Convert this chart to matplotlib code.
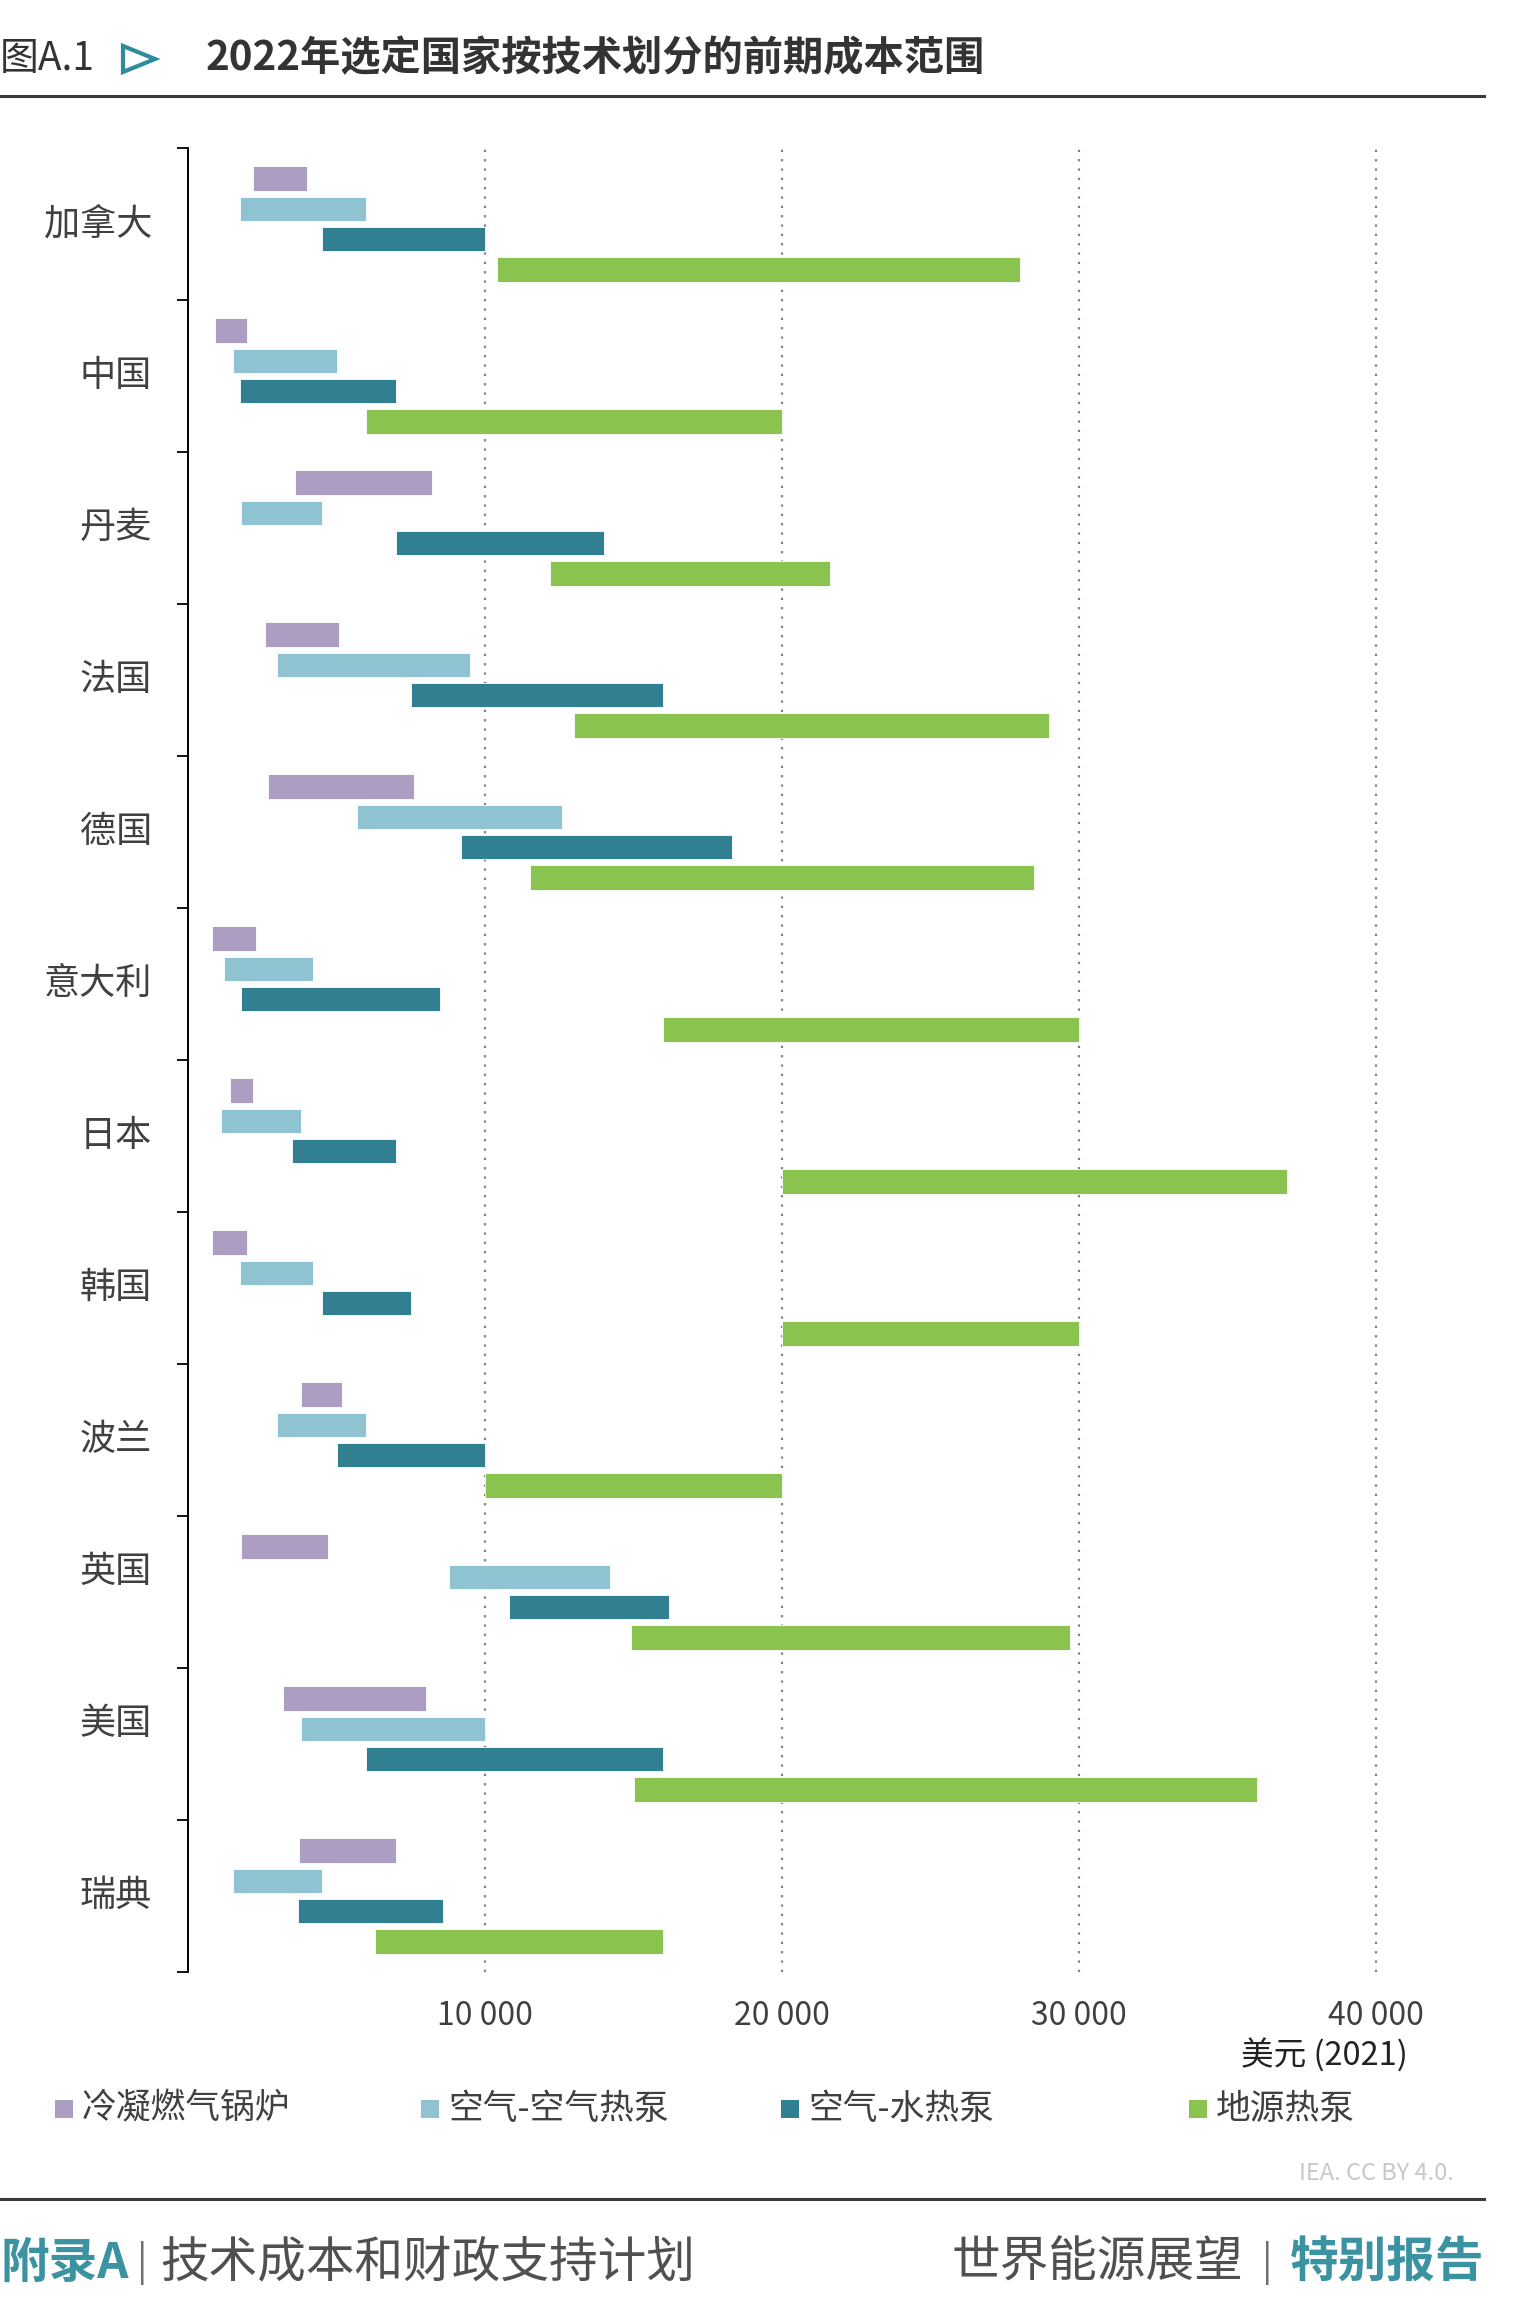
import matplotlib
matplotlib.use("Agg")
import matplotlib.pyplot as plt
from matplotlib.patches import Rectangle, Polygon
from matplotlib.lines import Line2D
import numpy as np

plt.rcParams['font.family'] = ['Noto Sans CJK SC', 'DejaVu Sans']

countries = ["加拿大", "中国", "丹麦", "法国", "德国", "意大利", "日本", "韩国", "波兰", "英国", "美国", "瑞典"]
series = ["冷凝燃气锅炉", "空气-空气热泵", "空气-水热泵", "地源热泵"]
colors = ["#AC9DC2", "#8FC3D2", "#327F91", "#8BC350"]

# [low, high] per country, USD (2021)
gas_boiler = [(2200, 4000), (900, 2000), (3600, 8200), (2600, 5100), (2700, 7600), (800, 2300),
              (1400, 2200), (800, 2000), (3800, 5200), (1800, 4700), (3200, 8000), (3750, 7000)]
air_air = [(1750, 6000), (1500, 5000), (1800, 4500), (3000, 9500), (5700, 12600), (1200, 4200),
           (1100, 3800), (1750, 4200), (3000, 6000), (8800, 14200), (3800, 10000), (1500, 4500)]
air_water = [(4500, 10000), (1750, 7000), (7000, 14000), (7500, 16000), (9200, 18300), (1800, 8500),
             (3500, 7000), (4500, 7500), (5000, 10000), (10800, 16200), (6000, 16000), (3700, 8600)]
ground = [(10400, 28000), (6000, 20000), (12200, 21600), (13000, 29000), (11500, 28500), (16000, 30000),
          (20000, 37000), (20000, 30000), (10000, 20000), (14900, 29700), (15000, 36000), (6300, 16000)]

xticks = [10000, 20000, 30000, 40000]
xticklabels = ["10 000", "20 000", "30 000", "40 000"]

W, H = 1516, 2319
fig = plt.figure(figsize=(W / 100, H / 100), dpi=100)

def fx(x):
    return x / W

def fy(y):
    return 1 - y / H

# axes: x=0 at px 188, 40000 at px 1376
x_max = 40500
px_per_unit = (1376 - 188) / 40000
ax_w = x_max * px_per_unit
ax = fig.add_axes([fx(188), fy(1972), ax_w / W, (1972 - 148) / H])

offsets = [-0.3, -0.1, 0.1, 0.3]
all_series = [gas_boiler, air_air, air_water, ground]
ypos = np.arange(len(countries))
for s, data, col, off in zip(series, all_series, colors, offsets):
    lows = np.array([d[0] for d in data])
    highs = np.array([d[1] for d in data])
    ax.barh(ypos + off, highs - lows, left=lows, height=0.16, color=col,
            edgecolor="white", linewidth=0.6, zorder=3)

ax.set_xlim(0, x_max)
ax.set_ylim(len(countries) - 0.5, -0.5)

for x in xticks:
    ax.axvline(x, color="#7f7f7f", lw=1.6, linestyle=(0, (1, 3.2)), zorder=1)

ax.set_xticks(xticks)
ax.set_xticklabels(xticklabels, fontsize=23, color="#404040")
ax.tick_params(axis="x", length=0, pad=20)

ax.set_yticks(np.arange(-0.5, len(countries), 1.0))
ax.set_yticklabels([])
ax.tick_params(axis="y", which="major", length=8, width=1.3, color="black", direction="out")

# country labels (UK and US sit a little higher in the original layout)
label_shift = [0.0] * len(countries)
label_shift[9] = -0.13
label_shift[10] = -0.13
lab_x = -36 / ax_w
for i, (c, sh) in enumerate(zip(countries, label_shift)):
    ax.text(lab_x, i + sh, c, transform=ax.get_yaxis_transform(), ha="right", va="center",
            fontsize=26, color="#404040")

for sp in ["top", "right", "bottom"]:
    ax.spines[sp].set_visible(False)
ax.spines["left"].set_linewidth(1.4)
ax.spines["left"].set_color("black")

# axis unit
fig.text(fx(1408), fy(2056), "美元 (2021)", ha="right", va="center", fontsize=23.5, color="#222222")

# Title
fig.text(fx(0), fy(59), "图A.1", ha="left", va="center", fontsize=28, color="#333333")
tri = Polygon([(fx(123), fy(46)), (fx(123), fy(72)), (fx(155), fy(59))], closed=True,
              fill=False, edgecolor="#2E8B9A", linewidth=3, transform=fig.transFigure)
fig.add_artist(tri)
fig.text(fx(206), fy(59), "2022年选定国家按技术划分的前期成本范围", ha="left", va="center",
         fontsize=29, fontweight="bold", color="#333333")
fig.add_artist(Line2D([fx(0), fx(1484)], [fy(96), fy(96)], color="#3a3a3a", lw=2.2,
                      transform=fig.transFigure))

# Legend
leg_x = [55, 421, 781, 1189]
for lx, col, s in zip(leg_x, colors, series):
    fig.add_artist(Rectangle((fx(lx), fy(2118)), 18 / W, 18 / H, facecolor=col, edgecolor="none",
                             transform=fig.transFigure))
    fig.text(fx(lx + 27), fy(2109), s, ha="left", va="center", fontsize=25, color="#404040")

fig.text(fx(1454), fy(2174), "IEA. CC BY 4.0.", ha="right", va="center", fontsize=17, color="#c8c8c8")

fig.add_artist(Line2D([fx(0), fx(1484)], [fy(2199), fy(2199)], color="#3a3a3a", lw=2.2,
                      transform=fig.transFigure))

# Footer
teal = "#3B93A1"
fig.text(fx(0), fy(2263), "附录A", ha="left", va="center", fontsize=35, fontweight="bold", color=teal)
fig.text(fx(142), fy(2263), "|", ha="center", va="center", fontsize=28, color="#707070")
fig.text(fx(160), fy(2263), "技术成本和财政支持计划", ha="left", va="center", fontsize=35, color="#505050")
fig.text(fx(951), fy(2263), "世界能源展望", ha="left", va="center", fontsize=35, color="#505050")
fig.text(fx(1267), fy(2263), "|", ha="center", va="center", fontsize=28, color="#707070")
fig.text(fx(1484), fy(2263), "特别报告", ha="right", va="center", fontsize=35, fontweight="bold", color=teal)

fig.savefig("out.png", dpi=100)
